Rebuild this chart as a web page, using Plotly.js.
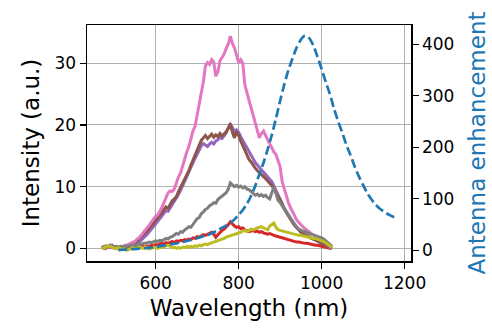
<!DOCTYPE html>
<html><head><meta charset="utf-8">
<script src="https://cdn.plot.ly/plotly-3.0.1.min.js"></script>
<style>html,body{margin:0;padding:0;background:#fff}#chart{width:492px;height:331px}</style>
</head><body><div id="chart"></div>
<script>
// Spectra wavelength grid (nm)
const wavelength = [
470,475,480,485,490,495,500,505,510,515,
520,525,530,535,540,545,550,555,560,565,
570,575,580,585,590,595,600,605,610,615,
620,625,630,635,640,645,650,655,660,665,
670,675,680,685,690,695,700,705,710,715,
720,725,730,735,740,745,750,755,760,765,
770,775,780,785,790,795,800,805,810,815,
820,825,830,835,840,845,850,855,860,865,
870,875,880,885,890,895,900,905,910,915,
920,925,930,935,940,945,950,955,960,965,
970,975,980,985,990,995,1000,1005,1010,1015,
1020,1025];

const redSpectrum = [
0.1,0.2,0.0,0.3,0.2,0.1,0.2,0.0,0.1,0.2,
0.1,0.0,0.2,0.1,0.3,0.2,0.1,0.3,0.2,0.4,
0.3,0.2,0.4,0.3,0.5,0.4,0.6,0.5,0.7,0.8,
0.7,0.9,0.8,1.0,1.1,0.9,1.2,1.1,1.3,1.2,
1.4,1.3,1.5,1.4,1.7,1.6,1.9,1.8,2.0,2.2,
2.1,2.3,2.4,2.6,2.3,1.8,2.2,2.6,2.9,3.1,
3.4,3.8,4.3,3.9,3.6,3.4,3.5,3.2,3.3,3.0,
2.9,2.7,2.8,2.9,2.7,2.8,2.6,2.7,2.5,2.4,
2.3,2.4,2.2,2.1,2.0,1.9,1.8,1.7,1.5,1.4,
1.3,1.2,1.2,1.1,1.0,1.0,0.9,0.9,0.8,0.8,
0.7,0.6,0.6,0.5,0.5,0.4,0.3,0.2,0.1,0.0,
0.0,0.0];

const purpleSpectrum = [
0.1,0.2,0.1,0.3,0.2,0.4,0.1,0.2,0.0,0.2,
0.1,0.0,0.2,0.1,0.3,0.3,0.5,0.7,1.0,1.3,
1.6,1.9,2.3,2.7,3.1,3.5,3.9,4.3,4.7,5.2,
5.7,6.1,6.0,6.5,7.1,7.5,8.0,8.7,9.4,10.1,
10.9,11.5,12.3,13.1,13.9,14.6,15.4,16.1,16.6,17.0,
16.8,16.5,16.9,17.2,16.9,17.4,17.6,18.0,17.8,18.3,
18.7,19.5,20.1,19.6,18.9,19.2,18.8,18.1,17.5,16.8,
16.2,15.5,15.0,14.4,13.9,13.5,13.1,12.7,12.3,12.0,
11.6,11.2,10.8,10.1,9.3,8.6,8.0,7.2,6.5,5.9,
5.3,4.8,4.3,3.8,3.4,3.0,2.7,2.4,2.2,2.0,
1.8,1.7,1.5,1.4,1.2,1.0,0.9,0.7,0.5,0.3,
0.1,0.0];

const brownSpectrum = [
0.2,0.0,0.3,0.2,0.4,0.5,0.2,0.1,0.2,0.1,
0.0,0.2,0.1,0.3,0.2,0.5,0.8,1.1,1.5,1.9,
2.2,2.6,2.9,3.3,3.7,4.1,4.5,4.9,5.3,5.8,
6.3,6.7,6.5,7.1,7.7,8.0,8.4,9.2,9.9,10.6,
11.2,11.8,12.6,13.5,14.3,15.0,16.0,16.9,17.5,17.9,
18.3,17.8,18.2,18.5,18.0,18.4,18.1,18.6,18.2,18.5,
18.9,19.4,20.2,18.8,17.9,18.9,18.3,17.4,16.6,15.8,
15.2,14.4,14.0,13.4,13.0,12.6,12.3,11.9,11.6,11.3,
10.9,10.5,10.2,9.6,8.9,8.4,7.9,7.0,6.4,5.8,
5.2,4.7,4.2,3.7,3.3,2.9,2.6,2.3,2.1,1.9,
1.8,1.6,1.5,1.3,1.1,1.0,0.8,0.7,0.5,0.3,
0.1,0.0];

const pinkSpectrum = [
0.2,0.1,0.3,0.2,0.5,0.3,0.1,0.2,0.1,0.3,
0.2,0.4,0.5,0.6,0.8,1.0,1.1,1.5,1.7,2.1,
2.6,2.9,3.4,3.8,4.3,4.6,5.2,5.4,5.9,6.6,
7.4,8.3,9.0,9.3,9.2,9.6,10.6,11.6,12.2,13.4,
14.3,15.6,16.5,17.9,19.0,19.8,21.5,23.6,24.8,27.0,
29.6,30.1,29.8,30.6,30.2,27.9,28.6,30.4,30.9,31.5,
32.4,33.1,34.4,33.2,32.5,31.4,30.1,30.6,30.0,26.5,
25.0,24.0,22.8,21.6,20.2,18.9,17.9,18.6,19.0,18.3,
17.5,16.9,16.3,15.6,15.2,14.3,13.2,10.8,9.6,8.5,
7.4,6.6,5.9,5.2,4.6,4.2,3.8,3.5,3.2,2.9,
2.6,2.4,2.2,2.0,1.9,1.7,1.4,1.2,0.9,0.6,
0.4,0.1];

const graySpectrum = [
0.3,0.2,0.4,0.3,0.5,0.3,0.2,0.3,0.2,0.3,
0.2,0.4,0.3,0.4,0.5,0.4,0.6,0.5,0.7,0.6,
0.8,0.8,0.9,1.0,0.9,1.1,1.2,1.1,1.3,1.2,
1.4,1.6,1.5,1.8,1.9,2.2,2.4,2.3,2.7,2.6,
3.0,3.2,3.5,3.4,3.9,4.4,4.8,5.0,5.6,5.9,
6.3,6.5,6.9,7.1,7.4,7.3,7.9,8.2,8.5,8.7,
9.0,9.6,10.6,10.3,10.0,10.2,9.9,10.1,9.8,10.0,
9.6,9.5,9.2,8.9,8.6,8.8,8.5,8.7,8.4,8.6,
8.2,8.0,9.0,10.0,8.9,7.8,7.4,6.9,6.3,5.8,
5.2,4.7,4.2,3.8,3.4,3.1,2.9,2.8,2.7,2.5,
2.4,2.3,2.2,2.1,2.0,1.9,1.7,1.5,1.2,0.9,
0.6,0.3];

const oliveSpectrum = [
0.1,0.0,0.2,0.4,0.3,0.1,0.0,-0.1,0.1,0.0,
-0.2,-0.1,-0.3,-0.2,0.0,0.1,-0.1,0.0,0.2,0.1,
0.0,0.2,0.1,-0.1,0.0,0.2,0.1,0.0,0.2,0.1,
0.3,0.4,0.5,0.3,0.1,0.2,0.0,0.1,0.0,0.2,
0.1,0.3,0.2,0.3,0.2,0.4,0.3,0.5,0.4,0.6,
0.7,0.6,0.8,0.9,1.0,1.1,1.2,1.3,1.5,1.6,
1.8,1.9,2.0,2.1,2.3,2.4,2.5,2.6,2.8,2.9,
2.7,2.9,3.1,3.0,3.2,3.3,3.4,3.5,3.3,3.1,
3.0,3.6,3.8,4.1,3.4,3.0,2.9,2.8,2.7,2.6,
2.6,2.5,2.4,2.3,2.2,2.1,2.1,2.0,1.9,1.8,
1.8,1.7,1.6,1.6,1.5,1.4,1.2,1.1,0.9,0.7,
0.4,0.1];

// Antenna enhancement (right axis)
const enhWavelength = [
510,520,530,540,550,560,570,580,590,600,
610,620,630,640,650,660,670,680,690,700,
710,720,730,740,750,760,770,780,790,800,
810,820,830,840,850,860,870,880,890,900,
910,920,930,940,950,960,970,980,990,1000,
1010,1020,1030,1040,1050,1060,1070,1080,1090,1100,
1110,1120,1130,1140,1150,1160,1170,1180];
const enhancement = [
0.5,1,1.5,2,2.5,3,3.5,4.5,5.5,6.5,
8,9.5,10.5,12,13.5,15,17,19,21,23.5,
26,28.5,31,35,39,44,48,53,60,69,
78,90,106,125,148,170,196,224,256,290,
322,350,373,394,409,417,412,398,376,352,
327,303,275,250,228,204,184,162,143,127,
111,99,89,81,75,70,66,62];

const xTicks = [600, 800, 1000, 1200];
const yTicks = [0, 10, 20, 30];
const y2Ticks = [0, 100, 200, 300, 400];

const spectra = [
  {y: redSpectrum, color: '#d62728'},
  {y: purpleSpectrum, color: '#9467bd'},
  {y: brownSpectrum, color: '#8c564b'},
  {y: pinkSpectrum, color: '#e377c2'},
  {y: graySpectrum, color: '#7f7f7f'},
  {y: oliveSpectrum, color: '#bcbd22'}
];

const traces = spectra.map(s => ({
  x: wavelength, y: s.y, type: 'scatter', mode: 'lines',
  line: {color: s.color, width: 3}, xaxis: 'x', yaxis: 'y', hoverinfo: 'skip'
}));
traces.push({
  x: enhWavelength, y: enhancement, type: 'scatter', mode: 'lines',
  line: {color: '#1f77b4', width: 2.7, dash: '9px,4px', shape: 'spline', smoothing: 0.6},
  xaxis: 'x', yaxis: 'y2', hoverinfo: 'skip'
});

const font = {family: 'DejaVu Sans, sans-serif', size: 17, color: '#000'};
const layout = {
  width: 492, height: 331,
  margin: {l: 87, r: 81, t: 25, b: 70, pad: 0},
  paper_bgcolor: '#fff', plot_bgcolor: '#fff',
  showlegend: false,
  font: font,
  xaxis: {
    range: [434.5, 1215.5], tickvals: xTicks, ticktext: xTicks.map(String),
    showgrid: true, gridcolor: '#b0b0b0', gridwidth: 1,
    ticks: 'outside', ticklen: 6, tickwidth: 1.2, tickcolor: '#000',
    showline: true, linecolor: '#000', linewidth: 1.5, mirror: true,
    zeroline: false, tickfont: font,
    title: {text: 'Wavelength (nm)', font: {family: font.family, size: 23, color: '#000'}, standoff: 8}
  },
  yaxis: {
    range: [-2.06, 36.2], tickvals: yTicks, ticktext: yTicks.map(String),
    showgrid: true, gridcolor: '#b0b0b0', gridwidth: 1,
    ticks: 'outside', ticklen: 6, tickwidth: 1.2, tickcolor: '#000',
    showline: true, linecolor: '#000', linewidth: 1.5,
    zeroline: false, tickfont: font,
    title: {text: 'Intensity (a.u.)', font: {family: font.family, size: 23, color: '#000'}, standoff: 8}
  },
  yaxis2: {
    overlaying: 'y', side: 'right', anchor: 'x',
    range: [-20.8, 437.5], tickvals: y2Ticks, ticktext: y2Ticks.map(String),
    showgrid: false,
    ticks: 'outside', ticklen: 6, tickwidth: 1.2, tickcolor: '#000',
    showline: true, linecolor: '#000', linewidth: 1.5,
    zeroline: false, tickfont: font,
    title: {text: 'Antenna enhancement', font: {family: font.family, size: 23, color: '#1f77b4'}, standoff: 15}
  }
};

Plotly.newPlot('chart', traces, layout, {displayModeBar: false, staticPlot: true});
</script>
</body></html>
